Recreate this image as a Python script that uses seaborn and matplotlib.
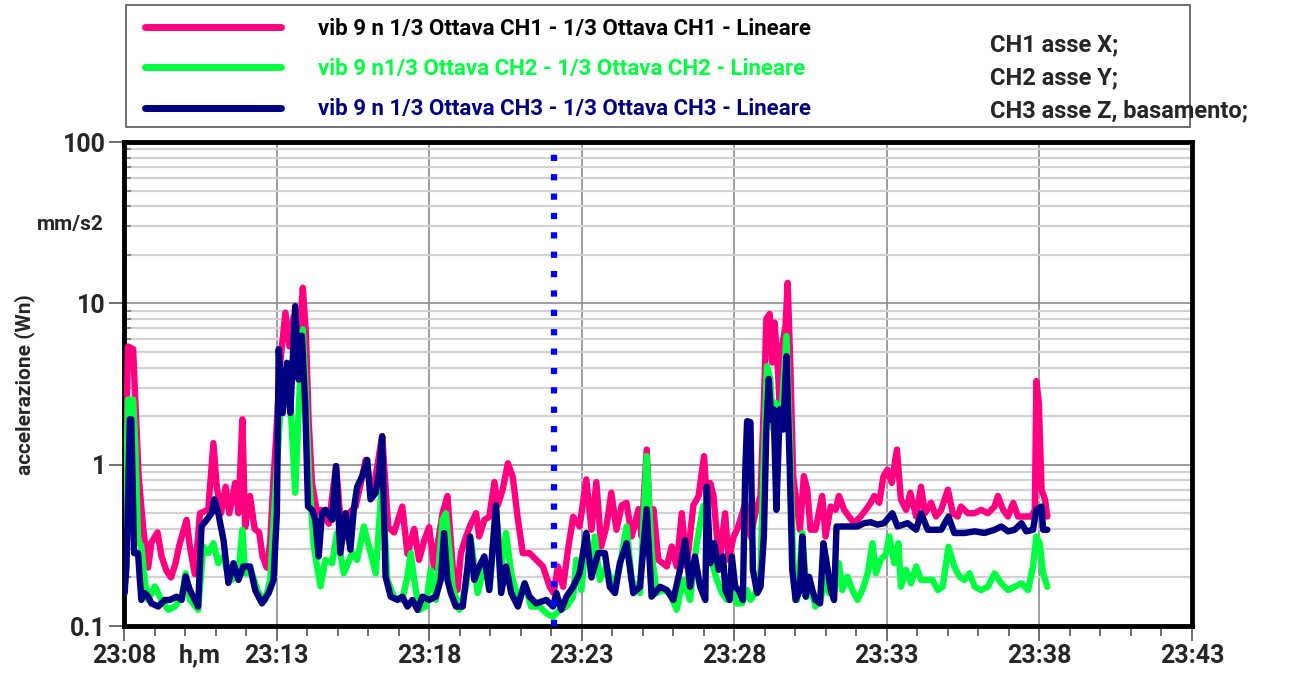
import pandas as pd
import matplotlib
matplotlib.use('Agg')
import matplotlib.pyplot as plt
import seaborn as sns
from matplotlib.lines import Line2D
from matplotlib.patches import Rectangle
from matplotlib.ticker import FixedLocator, FixedFormatter, LogLocator, MultipleLocator, NullFormatter

# time in minutes after 23:08, acceleration in mm/s2
ch1_min = [0.02, 0.13, 0.30, 0.37, 0.48, 0.63, 0.79, 0.90, 1.10, 1.23, 1.39, 1.54, 1.69, 1.80, 2.05, 2.16, 2.32, 2.49,
           2.76, 2.93, 3.04, 3.18, 3.33, 3.45, 3.64, 3.75, 3.88, 3.97, 4.13, 4.28, 4.43, 4.54, 4.68, 4.79, 4.90, 4.98,
           5.12, 5.29, 5.42, 5.56, 5.70, 5.86, 5.96, 6.05, 6.16, 6.33, 6.47, 6.71, 6.95, 7.15, 7.37, 7.59, 7.81, 7.92,
           8.14, 8.46, 8.66, 8.85, 9.12, 9.29, 9.51, 9.67, 9.84, 10.00, 10.16, 10.44, 10.60,
           10.77, 10.93, 11.04, 11.21, 11.37, 11.54, 11.64, 11.81, 11.97, 12.14, 12.25, 12.41, 12.58, 12.74, 12.91,
           13.07, 13.29, 13.51, 13.73, 13.95, 14.08, 14.22, 14.39, 14.55, 14.72, 14.93, 15.15, 15.32, 15.48, 15.64,
           15.81, 15.97, 16.14, 16.31, 16.47, 16.64, 16.86, 16.96, 17.13, 17.24, 17.35, 17.51, 17.79, 17.95, 18.11,
           18.28, 18.44, 18.66, 18.83, 19.01,
           19.10, 19.21, 19.32, 19.43, 19.54, 19.70, 19.81, 19.98, 20.09, 20.20, 20.36, 20.53, 20.69, 20.86, 20.97,
           21.05, 21.16, 21.24, 21.32, 21.43, 21.49, 21.57, 21.68, 21.75, 21.84, 21.93, 22.04, 22.15, 22.28, 22.39,
           22.50, 22.66, 22.88, 22.99, 23.16, 23.32, 23.43, 23.60, 23.76, 23.93, 24.14, 24.31, 24.47, 24.59, 24.75,
           24.89, 25.02, 25.16, 25.33, 25.46, 25.63, 25.77, 25.96, 26.12, 26.25, 26.45, 26.61, 26.78, 27.00, 27.16,
           27.32, 27.43, 27.65, 27.87, 28.09, 28.31, 28.53, 28.64, 28.81, 28.97, 29.14, 29.30, 29.47, 29.74, 29.85,
           29.90, 29.98, 30.07, 30.18, 30.26]
ch1_val = [0.43, 5.4, 5.2, 2.5, 0.85, 0.40, 0.23, 0.33, 0.38, 0.27, 0.22, 0.20, 0.245, 0.31, 0.455, 0.31, 0.21, 0.50,
           0.525, 1.36, 0.73, 0.50, 0.73, 0.50, 0.77, 0.50, 1.91, 0.41, 0.64, 0.40, 0.38, 0.27, 0.23, 0.33, 0.81, 1.43,
           4.3, 8.75, 5.4, 8.3, 4.3, 12.5, 6.6, 1.9, 0.77, 0.50, 0.525, 0.43, 0.98, 0.34, 0.50, 0.55, 0.85, 1.07,
           0.64, 1.5, 0.41, 0.38, 0.55, 0.28, 0.40, 0.257, 0.34, 0.41, 0.23, 0.50, 0.64,
           0.234, 0.167, 0.283, 0.359, 0.43, 0.50, 0.359, 0.455, 0.475, 0.78, 0.56, 0.70, 1.02, 0.84, 0.455,
           0.283, 0.283, 0.257, 0.234, 0.175, 0.16, 0.234, 0.175, 0.297, 0.475, 0.414, 0.81, 0.395, 0.78, 0.311,
           0.414, 0.67, 0.395, 0.56, 0.58, 0.359, 0.53, 0.359, 1.24, 0.43, 0.53, 0.257, 0.234, 0.311, 0.234,
           0.50, 0.234, 0.56, 0.64, 1.13,
           0.58, 0.77, 0.64, 0.359, 0.28, 0.50, 0.257, 0.359, 0.395, 0.455, 0.58, 0.359, 0.50, 0.64, 2.42,
           8.0, 8.6, 4.3, 7.6, 3.9, 2.2, 5.43, 7.3, 13.4, 3.9, 0.85, 0.58, 0.395, 0.85, 0.70,
           0.395, 0.395, 0.64, 0.359, 0.55, 0.525, 0.64, 0.525, 0.477, 0.434, 0.477, 0.525, 0.58, 0.64, 0.58,
           0.85, 0.93, 0.77, 1.24, 0.61, 0.525, 0.67, 0.477, 0.73, 0.50, 0.58, 0.477, 0.525, 0.70, 0.50,
           0.477, 0.55, 0.50, 0.50, 0.525, 0.50, 0.55, 0.64, 0.525, 0.477, 0.58, 0.477, 0.477, 0.477, 0.525,
           3.3, 2.42, 0.70, 0.61, 0.477]

ch2_min = [0.02, 0.13, 0.30, 0.37, 0.46, 0.57, 0.68, 0.79, 1.01, 1.23, 1.45, 1.67, 1.89, 2.02, 2.16, 2.43, 2.60, 2.76,
           2.93, 3.09, 3.26, 3.37, 3.53, 3.75, 3.88, 3.97, 4.19, 4.41, 4.63, 4.79, 4.96, 5.12, 5.29, 5.45, 5.61, 5.72,
           5.86, 5.94, 6.07, 6.22, 6.44, 6.60, 6.82, 6.98, 7.20, 7.48, 7.64, 7.86, 8.03, 8.25, 8.46, 8.63, 8.85, 9.12,
           9.29, 9.40, 9.51, 9.67, 9.89, 10.05, 10.22, 10.44, 10.55,
           10.77, 10.99, 11.21, 11.37, 11.59, 11.81, 11.99, 12.19, 12.36, 12.52, 12.69, 12.91, 13.13, 13.34, 13.62,
           13.84, 14.06, 14.28, 14.50, 14.72, 14.82, 14.99, 15.15, 15.32, 15.43, 15.59, 15.81, 16.03, 16.25, 16.47,
           16.64, 16.91, 17.13, 17.29, 17.46, 17.68, 17.89, 18.11, 18.33, 18.55, 18.77, 18.99,
           19.10, 19.27, 19.43, 19.60, 19.76, 19.92, 20.09, 20.25, 20.42, 20.53, 20.69, 20.86, 20.94, 21.07, 21.18,
           21.27, 21.35, 21.46, 21.57, 21.71, 21.82, 21.93, 22.06, 22.23, 22.37, 22.50, 22.66, 22.83, 22.96, 23.11,
           23.27, 23.43, 23.54, 23.71, 23.87, 24.04, 24.20, 24.37, 24.53, 24.64, 24.80, 24.97, 25.08, 25.24, 25.38,
           25.46, 25.63, 25.79, 25.96, 26.12, 26.34, 26.50, 26.67, 26.83, 27.02, 27.21, 27.38, 27.54, 27.71, 27.88,
           28.09, 28.31, 28.53, 28.75, 28.97, 29.19, 29.41, 29.63, 29.79, 29.90, 30.01, 30.12, 30.26]
ch2_val = [0.167, 2.53, 2.53, 1.3, 0.342, 0.311, 0.193, 0.145, 0.176, 0.145, 0.126, 0.132, 0.152, 0.212, 0.145, 0.126,
           0.311, 0.283, 0.326, 0.245, 0.27, 0.222, 0.193, 0.212, 0.395, 0.212, 0.212, 0.16, 0.145, 0.193, 0.67, 2.09,
           3.89, 2.53, 0.67, 2.09, 6.9, 3.37, 0.81, 0.311, 0.176, 0.257, 0.245, 0.377, 0.212, 0.283, 0.257, 0.414,
           0.311, 0.212, 0.81, 0.193, 0.152, 0.145, 0.203, 0.283, 0.193, 0.126, 0.132, 0.222, 0.145, 0.455, 0.50,
           0.175, 0.126, 0.175, 0.34, 0.16, 0.234, 0.175, 0.53, 0.234, 0.377, 0.212, 0.145, 0.184, 0.132, 0.132,
           0.12, 0.114, 0.126, 0.132, 0.152, 0.257, 0.167, 0.359, 0.212, 0.359, 0.193, 0.234, 0.175, 0.234, 0.414,
           0.193, 0.16, 1.13, 0.283, 0.16, 0.167, 0.16, 0.126, 0.193, 0.145, 0.326, 0.56,
           0.40, 0.245, 0.193, 0.16, 0.145, 0.167, 0.138, 0.138, 0.167, 0.145, 0.16, 0.223, 0.73, 4.08, 3.4,
           1.65, 2.42, 1.65, 2.42, 6.27, 1.5, 0.245, 0.145, 0.377, 0.152, 0.175, 0.132, 0.145, 0.193, 0.16,
           0.16, 0.245, 0.167, 0.202, 0.167, 0.145, 0.167, 0.212, 0.326, 0.212, 0.257, 0.28, 0.359, 0.245, 0.326,
           0.175, 0.223, 0.184, 0.234, 0.193, 0.193, 0.193, 0.167, 0.175, 0.31, 0.234, 0.202, 0.193, 0.212, 0.175,
           0.167, 0.175, 0.212, 0.184, 0.167, 0.175, 0.184, 0.167, 0.234, 0.359, 0.326, 0.212, 0.175]

ch3_min = [0.02, 0.08, 0.19, 0.24, 0.33, 0.46, 0.52, 0.57, 0.68, 0.79, 0.90, 1.12, 1.34, 1.50, 1.72, 1.89, 2.02, 2.16,
           2.32, 2.43, 2.54, 2.71, 2.87, 2.96, 3.09, 3.26, 3.42, 3.59, 3.75, 3.91, 4.13, 4.30, 4.52, 4.74, 4.90, 5.01,
           5.07, 5.20, 5.34, 5.45, 5.61, 5.72, 5.83, 5.94, 6.03, 6.16, 6.27, 6.38, 6.49, 6.60, 6.82, 6.95, 7.09, 7.26,
           7.42, 7.53, 7.64, 7.81, 7.97, 8.08, 8.25, 8.36, 8.46, 8.57, 8.74, 8.96, 9.12, 9.29, 9.45, 9.62, 9.78, 10.00,
           10.22, 10.38, 10.49, 10.60,
           10.71, 10.88, 11.10, 11.26, 11.34, 11.48, 11.64, 11.81, 11.97, 12.19, 12.36, 12.52, 12.69, 12.91, 13.13,
           13.29, 13.51, 13.84, 14.06, 14.17, 14.33, 14.50, 14.72, 14.93, 15.15, 15.32, 15.54, 15.76, 15.92, 16.09,
           16.25, 16.47, 16.69, 16.91, 17.13, 17.29, 17.57, 17.79, 18.00, 18.22, 18.39, 18.55, 18.71, 18.88, 19.05,
           19.10, 19.21, 19.34, 19.49, 19.63, 19.71, 19.85, 19.92, 20.03, 20.14, 20.28, 20.36, 20.42, 20.53, 20.61,
           20.75, 20.86, 20.97, 21.05, 21.13, 21.21, 21.29, 21.38, 21.49, 21.60, 21.71, 21.82, 21.90, 22.01, 22.15,
           22.23, 22.34, 22.45, 22.56, 22.66, 22.81, 22.92, 23.03, 23.16, 23.27, 23.35, 23.54, 23.76, 24.04, 24.25,
           24.47, 24.69, 24.91, 25.18, 25.35, 25.68, 25.96, 26.12, 26.34, 26.56, 26.78, 27.02, 27.21, 27.54, 27.88,
           28.20, 28.53, 28.75, 28.97, 29.19, 29.41, 29.57, 29.79, 29.90, 30.07, 30.12, 30.26]
ch3_val = [0.16, 0.234, 1.91, 1.91, 0.283, 0.283, 0.193, 0.145, 0.16, 0.152, 0.138, 0.132, 0.145, 0.145, 0.152, 0.145,
           0.203, 0.167, 0.145, 0.132, 0.414, 0.455, 0.50, 0.61, 0.50, 0.342, 0.185, 0.245, 0.193, 0.234, 0.234, 0.167,
           0.138, 0.16, 0.193, 0.50, 5.2, 2.09, 4.28, 2.09, 9.6, 3.37, 6.3, 2.3, 0.55, 0.525, 0.455, 0.27, 0.50, 0.525,
           0.455, 0.98, 0.283, 0.50, 0.297, 0.525, 0.73, 0.85, 1.07, 0.61, 0.67, 0.89, 1.5, 0.203, 0.152, 0.145,
           0.152, 0.132, 0.145, 0.126, 0.152, 0.145, 0.152, 0.193, 0.377, 0.193,
           0.16, 0.132, 0.132, 0.234, 0.359, 0.193, 0.234, 0.27, 0.167, 0.56, 0.16, 0.234, 0.16, 0.132, 0.184,
           0.152, 0.138, 0.145, 0.132, 0.16, 0.126, 0.152, 0.175, 0.212, 0.377, 0.2, 0.283, 0.283, 0.175, 0.16,
           0.245, 0.326, 0.16, 0.175, 0.53, 0.152, 0.175, 0.167, 0.145, 0.222, 0.34, 0.175, 0.27, 0.175, 0.145,
           0.73, 0.245, 0.326, 0.223, 0.27, 0.167, 0.145, 0.27, 0.175, 0.167, 0.145, 0.93, 1.86, 1.83, 0.223,
           0.16, 0.175, 0.359, 1.65, 3.4, 1.9, 2.2, 0.525, 2.2, 1.65, 4.7, 0.93, 0.223, 0.145, 0.167,
           0.359, 0.152, 0.202, 0.167, 0.145, 0.138, 0.326, 0.245, 0.167, 0.145, 0.414, 0.414, 0.414, 0.414, 0.434,
           0.44, 0.425, 0.434, 0.50, 0.414, 0.434, 0.395, 0.50, 0.395, 0.395, 0.395, 0.477, 0.377, 0.377, 0.386,
           0.377, 0.395, 0.414, 0.386, 0.395, 0.434, 0.386, 0.395, 0.525, 0.55, 0.395, 0.395]

cursor_min = 14.08

x_ticks = [0, 5, 10, 15, 20, 25, 30, 35]
x_labels = ['23:08', '23:13', '23:18', '23:23', '23:28', '23:33', '23:38', '23:43']
y_ticks = [0.1, 1, 10, 100]
y_labels = ['0.1', '1', '10', '100']

series_labels = ['vib 9 n 1/3 Ottava CH1 - 1/3 Ottava CH1 - Lineare',
                 'vib 9 n1/3 Ottava CH2 - 1/3 Ottava CH2 - Lineare',
                 'vib 9 n 1/3 Ottava CH3 - 1/3 Ottava CH3 - Lineare']
series_colors = ['#ff0080', '#00ff40', '#000080']
label_colors = ['black', '#00ff40', '#000080']
axis_notes = ['CH1 asse X;', 'CH2 asse Y;', 'CH3 asse Z, basamento;']

sns.set_theme(style='white')
plt.rcParams['font.family'] = ['Roboto', 'DejaVu Sans']
plt.rcParams['font.weight'] = 'bold'

W, H = 1300, 673
fig = plt.figure(figsize=(W / 100, H / 100), dpi=100)
ax = fig.add_axes([124 / W, 1 - 626 / H, (1192 - 124) / W, (626 - 142) / H])

frames = []
for lab, t, v in zip(series_labels, [ch1_min, ch2_min, ch3_min], [ch1_val, ch2_val, ch3_val]):
    frames.append(pd.DataFrame({'min': t, 'val': v, 'serie': lab}))
df = pd.concat(frames, ignore_index=True)

sns.lineplot(data=df, x='min', y='val', hue='serie', hue_order=series_labels,
             palette=dict(zip(series_labels, series_colors)), estimator=None,
             lw=4.6, legend=False, ax=ax, zorder=3)

ax.set_yscale('log')
ax.set_ylim(0.1, 100)
ax.set_xlim(0, 35)
ax.axvline(cursor_min, color='#0000ff', lw=4.5, ls=(0, (1, 2.1)), zorder=4)

ax.yaxis.set_major_locator(FixedLocator(y_ticks))
ax.yaxis.set_major_formatter(FixedFormatter(y_labels))
ax.yaxis.set_minor_locator(LogLocator(base=10, subs=range(2, 10)))
ax.yaxis.set_minor_formatter(NullFormatter())
ax.xaxis.set_major_locator(FixedLocator(x_ticks))
ax.xaxis.set_major_formatter(FixedFormatter(x_labels))
ax.xaxis.set_minor_locator(MultipleLocator(1))

ax.grid(True, which='major', axis='both', color='#8c8c8c', lw=1.2, zorder=0)
ax.grid(True, which='minor', axis='y', color='#d2d2d2', lw=1.6, zorder=0)
ax.tick_params(axis='both', which='major', direction='out', length=11, width=1.2, color='#555555',
               labelsize=18, pad=2, left=True, bottom=True)
ax.tick_params(axis='x', which='minor', direction='out', length=7, width=1.2, color='#555555', bottom=True)
ax.tick_params(axis='y', which='minor', direction='in', length=5, width=1.2, color='#777777', left=True)
for s in ax.spines.values():
    s.set_color('black')
    s.set_linewidth(3.5)
ax.set_xlabel('')
ax.set_ylabel('')

fig.text(25 / W, 1 - 385 / H, 'accelerazione (Wn)', rotation=90, ha='center', va='center', fontsize=15)
fig.text(70 / W, 1 - 225 / H, 'mm/s2', ha='center', va='center', fontsize=15)
fig.text(200 / W, 1 - 655 / H, 'h,m', ha='center', va='center', fontsize=18)

# legend area
fig.patches.append(Rectangle((126 / W, 1 - 127 / H), (1190 - 126) / W, 122 / H, transform=fig.transFigure,
                             fill=False, edgecolor='#555555', lw=1.2, zorder=0))
handles = [Line2D([], [], color=c, lw=5) for c in series_colors]
ax.legend(handles, series_labels, loc='upper left', bbox_to_anchor=(145 / W, 1 - 18 / H),
          bbox_transform=fig.transFigure, frameon=False, fontsize=16, handlelength=6.1,
          handletextpad=1.7, labelspacing=0.82, borderpad=0, borderaxespad=0, labelcolor=label_colors)
for i, note in enumerate(axis_notes):
    fig.text(990 / W, 1 - (45 + 33 * i) / H, note, ha='left', va='center', fontsize=17)

fig.savefig('out.png', dpi=100)
